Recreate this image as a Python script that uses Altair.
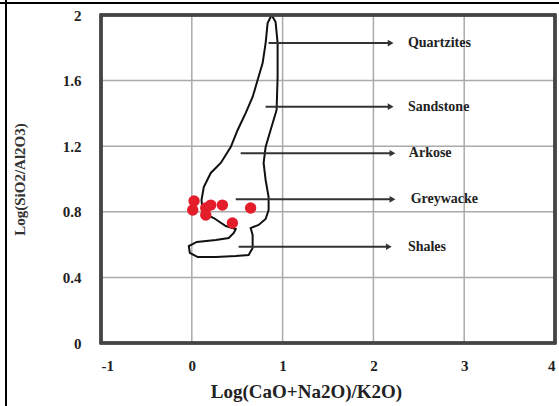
import altair as alt
import pandas as pd

# Field boundary (outline) in data coordinates, drawn in order
bx = [0.879, 0.923, 0.945, 0.945, 0.934, 0.868, 0.813, 0.791, 0.813, 0.846, 0.846, 0.813,
      0.736, 0.648, 0.670, 0.670, 0.626, 0.484, 0.264, 0.066, -0.022, -0.033, 0.055, 0.264,
      0.407, 0.462, 0.484, 0.374, 0.242, 0.121, 0.107, 0.132, 0.209, 0.319, 0.429, 0.505,
      0.593, 0.670, 0.725, 0.780, 0.813, 0.835, 0.879]
by = [2.000, 1.957, 1.829, 1.622, 1.421, 1.299, 1.195, 1.098, 0.994, 0.890, 0.811, 0.756,
      0.720, 0.701, 0.659, 0.579, 0.537, 0.530, 0.524, 0.524, 0.549, 0.591, 0.616, 0.628,
      0.640, 0.671, 0.695, 0.713, 0.762, 0.793, 0.872, 0.951, 1.037, 1.098, 1.195, 1.299,
      1.402, 1.500, 1.604, 1.707, 1.829, 1.951, 2.000]

# Samples
px = [0.025, 0.010, 0.154, 0.209, 0.337, 0.154, 0.447, 0.648]
py = [0.866, 0.811, 0.823, 0.841, 0.841, 0.780, 0.732, 0.823]

# Arrows and labels
names = ["Quartzites", "Sandstone", "Arkose", "Greywacke", "Shales"]
ay = [1.829, 1.441, 1.157, 0.876, 0.587]
ax0 = [0.846, 0.813, 0.538, 0.484, 0.516]
ax1 = [2.19, 2.19, 2.21, 2.21, 2.17]
lx = [2.38, 2.38, 2.39, 2.41, 2.38]

# Tick values
xticks = [-1, 0, 1, 2, 3, 4]
yticks = [0, 0.4, 0.8, 1.2, 1.6, 2]

outline = pd.DataFrame({"x": bx, "y": by, "o": list(range(len(bx)))})
pts = pd.DataFrame({"x": px, "y": py})
arrows = pd.DataFrame({"name": names, "y": ay, "x0": ax0, "x1": ax1, "lx": lx})
xg = pd.DataFrame({"v": xticks, "lo": [0.0] * 6, "hi": [2.0] * 6})
yg = pd.DataFrame({"v": yticks, "lo": [-1.0] * 6, "hi": [4.0] * 6})

xs = alt.Scale(domain=[-1, 4], nice=False, zero=False)
ys = alt.Scale(domain=[0, 2], nice=False, zero=False)

xaxis = alt.Axis(values=xticks, format="d", ticks=False, domain=False, grid=False,
                 labelPadding=15, labelFont="Liberation Serif", labelFontWeight="bold",
                 labelFontSize=15, labelColor="#222",
                 labelExpr="datum.value < 0 ? '-' + abs(datum.value) : '' + datum.value",
                 title="Log(CaO+Na2O)/K2O)", titleFont="Liberation Serif",
                 titleFontWeight="bold", titleFontSize=19, titleColor="#222",
                 titleX=205, titleY=48, titleBaseline="middle", titleAnchor="middle")
yaxis = alt.Axis(values=yticks, ticks=False, domain=False, grid=False,
                 labelPadding=20, labelFont="Liberation Serif", labelFontWeight="bold",
                 labelFontSize=15, labelColor="#222",
                 labelExpr="datum.value == 0 ? '0' : datum.value == 2 ? '2' : format(datum.value, '.1f')",
                 title="Log(SiO2/Al2O3)", titleFont="Liberation Serif",
                 titleFontWeight="bold", titleFontSize=15, titleColor="#333",
                 titleX=-82, titleY=164, titleAngle=-90, titleBaseline="middle")

xgrid = alt.Chart(xg).mark_rule(color="#aaaaaa", strokeWidth=1.5).encode(
    x=alt.X("v:Q", scale=xs, axis=xaxis),
    y=alt.Y("lo:Q", scale=ys, axis=yaxis), y2="hi:Q"
)
ygrid = alt.Chart(yg).mark_rule(color="#aaaaaa", strokeWidth=1.5).encode(
    y=alt.Y("v:Q", scale=ys),
    x=alt.X("lo:Q", scale=xs), x2="hi:Q"
)

base_line = alt.Chart(outline).mark_line(color="#111", strokeWidth=2, interpolate="linear").encode(
    x=alt.X("x:Q", scale=xs),
    y=alt.Y("y:Q", scale=ys),
    order="o:Q",
)

rules = alt.Chart(arrows).mark_rule(color="#333", strokeWidth=2).encode(
    x=alt.X("x0:Q", scale=xs), x2="x1:Q", y=alt.Y("y:Q", scale=ys)
)
heads = alt.Chart(arrows).mark_point(shape="triangle-right", filled=True, color="#333",
                                     size=45, opacity=1).encode(
    x=alt.X("x1:Q", scale=xs), y=alt.Y("y:Q", scale=ys)
)
labels = alt.Chart(arrows).mark_text(align="left", baseline="middle", font="Liberation Serif",
                                     fontWeight="bold", fontSize=14, color="#222").encode(
    x=alt.X("lx:Q", scale=xs), y=alt.Y("y:Q", scale=ys), text="name:N"
)
dots = alt.Chart(pts).mark_circle(color="#e31e2a", size=130, opacity=1).encode(
    x=alt.X("x:Q", scale=xs), y=alt.Y("y:Q", scale=ys)
)

plot_frame = alt.Chart(pts).mark_rect(fill=None, stroke="#444", strokeWidth=2.5).encode(
    x=alt.value(0), x2=alt.value(454), y=alt.value(0), y2=alt.value(328)
)
frame_top = alt.Chart(pts).mark_rule(color="black", strokeWidth=2).encode(
    x=alt.value(-101), x2=alt.value(460), y=alt.value(-12)
)
frame_left = alt.Chart(pts).mark_rule(color="black", strokeWidth=2).encode(
    x=alt.value(-95), y=alt.value(-15), y2=alt.value(392)
)

chart = alt.layer(xgrid, ygrid, base_line, rules, heads, labels, dots, plot_frame,
                  frame_top, frame_left).properties(
    width=454, height=328,
    autosize=alt.AutoSizeParams(type="none"),
    padding={"left": 101, "top": 15, "right": 4, "bottom": 63},
).configure_view(stroke=None).configure(background="white")

chart.save("out.html", embed_options={"renderer": "svg", "actions": False})
